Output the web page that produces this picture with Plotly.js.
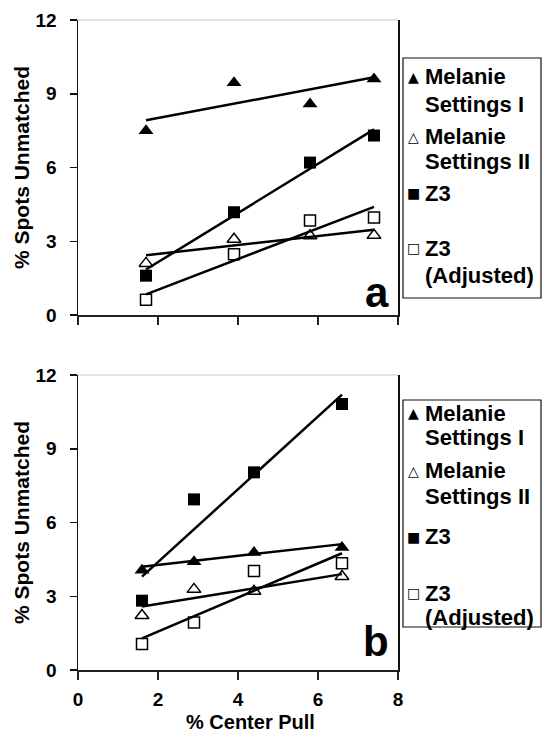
<!DOCTYPE html>
<html>
<head>
<meta charset="utf-8">
<script src="https://cdn.plot.ly/plotly-3.0.1.min.js"></script>
<style>html,body{margin:0;padding:0;background:#fff;}#chart{width:543px;height:734px;}</style>
</head>
<body>
<div id="chart"></div>
<script>
// ---------- data ----------
const seriesNames = ["Melanie<br>Settings I", "Melanie<br>Settings II", "Z3", "Z3<br>(Adjusted)"];
const legendSymbols = ["\u25B2", "\u25B3", "\u25A0", "\u25A1"];

// panel a
const xA = [1.7, 3.9, 5.8, 7.4];
const melanieI_A = [7.5, 9.45, 8.58, 9.6];
const melanieII_A = [2.1, 3.08, 3.22, 3.24];
const z3_A = [1.6, 4.18, 6.2, 7.3];
const z3adj_A = [0.62, 2.47, 3.84, 3.97];
const fitX_A = [1.7, 7.4];
const fitMelanieI_A = [7.92, 9.67];
const fitMelanieII_A = [2.43, 3.47];
const fitZ3_A = [1.85, 7.55];
const fitZ3adj_A = [0.84, 4.40];

// panel b
const xB = [1.6, 2.9, 4.4, 6.6];
const melanieI_B = [4.06, 4.4, 4.78, 4.98];
const melanieII_B = [2.22, 3.28, 3.2, 3.8];
const z3_B = [2.82, 6.94, 8.04, 10.82];
const z3adj_B = [1.06, 1.93, 4.03, 4.34];
const fitX_B = [1.6, 6.6];
const fitMelanieI_B = [4.2, 5.12];
const fitMelanieII_B = [2.58, 3.9];
const fitZ3_B = [3.8, 11.2];
const fitZ3adj_B = [1.29, 4.75];

const yTicks = [0, 3, 6, 9, 12];
const xTicks = [0, 2, 4, 6, 8];
const yTitle = "% Spots Unmatched";
const xTitle = "% Center Pull";
const panelLabels = ["a", "b"];

// ---------- styling ----------
const FONT = "Liberation Sans, Arial, Helvetica, sans-serif";
const markerStyles = [
  {symbol: "triangle-up", size: 13, color: "#000", line: {width: 0}},
  {symbol: "triangle-up-open", size: 12, color: "#000", line: {width: 1.5, color: "#000"}},
  {symbol: "square", size: 12, color: "#000", line: {width: 0}},
  {symbol: "square-open", size: 11, color: "#000", line: {width: 1.5, color: "#000"}}
];

function pts(x, y, k, xa, ya) {
  return {x: x, y: y, xaxis: xa, yaxis: ya, type: "scatter", mode: "markers",
          marker: markerStyles[k], showlegend: false, hoverinfo: "x+y", name: seriesNames[k]};
}
function fit(x, y, xa, ya) {
  return {x: x, y: y, xaxis: xa, yaxis: ya, type: "scatter", mode: "lines",
          line: {color: "#000", width: 2.5}, showlegend: false, hoverinfo: "skip"};
}

const traces = [
  fit(fitX_A, fitMelanieI_A, "x", "y"),
  fit(fitX_A, fitMelanieII_A, "x", "y"),
  fit(fitX_A, fitZ3_A, "x", "y"),
  fit(fitX_A, fitZ3adj_A, "x", "y"),
  pts(xA, melanieI_A, 0, "x", "y"),
  pts(xA, melanieII_A, 1, "x", "y"),
  pts(xA, z3_A, 2, "x", "y"),
  pts(xA, z3adj_A, 3, "x", "y"),
  fit(fitX_B, fitMelanieI_B, "x2", "y2"),
  fit(fitX_B, fitMelanieII_B, "x2", "y2"),
  fit(fitX_B, fitZ3_B, "x2", "y2"),
  fit(fitX_B, fitZ3adj_B, "x2", "y2"),
  pts(xB, melanieI_B, 0, "x2", "y2"),
  pts(xB, melanieII_B, 1, "x2", "y2"),
  pts(xB, z3_B, 2, "x2", "y2"),
  pts(xB, z3adj_B, 3, "x2", "y2")
];

// ---------- layout geometry (pixels -> paper) ----------
const L = 78, R = 145, T = 20, B = 64, W = 543, H = 734;
const PW = W - L - R, PH = H - T - B;
const px = v => (v - L) / PW;
const py = v => (H - B - v) / PH;

const tickFont = {family: FONT, size: 19, color: "#000", weight: "bold"};
const titleFont = {family: FONT, size: 21, color: "#000", weight: "bold"};
const xTitleFont = {family: FONT, size: 20, color: "#000", weight: "bold"};

function yAxis(domain) {
  return {domain: domain, range: [0, 12], tickvals: yTicks, ticktext: yTicks.map(String),
          showgrid: false, zeroline: false, showline: true, linecolor: "#111", linewidth: 1.5,
          mirror: true, ticks: "outside", ticklen: 7, tickwidth: 1.5, tickcolor: "#111",
          tickfont: tickFont, ticklabelstandoff: 9,
          title: {text: yTitle, font: titleFont, standoff: 0}, automargin: false, fixedrange: true};
}
function xAxis(anchor, labels) {
  return {anchor: anchor, range: [0, 8], tickvals: xTicks, ticktext: xTicks.map(String),
          showticklabels: labels, showgrid: false, zeroline: false, showline: true,
          linecolor: "#222", linewidth: 1.5, ticks: "outside", ticklen: 8, tickwidth: 1.5,
          tickcolor: "#222", tickfont: tickFont, ticklabelstandoff: 4,
          automargin: false, fixedrange: true};
}

const annotations = [];
const shapes = [];
// legends drawn per panel (one annotation per text line)
const legendGeom = [
  {top: 58, bottom: 298, symY: [76.7, 136.7, 193.3, 248.3], lineY: [[76.7, 104.5], [136.7, 161.7], [193.3], [248.3, 275]]},
  {top: 400, bottom: 627, symY: [413.3, 470.7, 536.7, 593.3], lineY: [[413.3, 437], [470.7, 496.7], [536.7], [593.3, 617.3]]}
];
legendGeom.forEach(g => {
  shapes.push({type: "rect", xref: "paper", yref: "paper", x0: px(403), x1: px(541),
               y0: py(g.bottom), y1: py(g.top), line: {color: "#111", width: 1.2}});
  for (let k = 0; k < 4; k++) {
    annotations.push({xref: "paper", yref: "paper", x: px(413.5), y: py(g.symY[k]),
      xanchor: "center", yanchor: "middle", showarrow: false, text: legendSymbols[k],
      font: {family: "DejaVu Sans", size: 14, color: "#000"}});
    const lines = seriesNames[k].split("<br>");
    lines.forEach((t, i) => {
      annotations.push({xref: "paper", yref: "paper", x: px(423), y: py(g.lineY[k][i]),
        xanchor: "left", yanchor: "middle", align: "left", showarrow: false, text: t,
        font: {family: FONT, size: 22, color: "#000", weight: "bold"}});
    });
  }
});
// x-axis title (bottom panel)
annotations.push({xref: "paper", yref: "paper", x: px(250), y: py(722), xanchor: "center", yanchor: "middle",
  showarrow: false, text: xTitle, font: xTitleFont});
// panel letters
annotations.push({xref: "paper", yref: "paper", x: px(391), y: py(292), xanchor: "right", yanchor: "middle",
  showarrow: false, text: panelLabels[0], font: {family: FONT, size: 42, color: "#000", weight: "bold"}});
annotations.push({xref: "paper", yref: "paper", x: px(391), y: py(641), xanchor: "right", yanchor: "middle",
  showarrow: false, text: panelLabels[1], font: {family: FONT, size: 42, color: "#000", weight: "bold"}});
// faint top borders
[20, 375].forEach(yy => shapes.push({type: "line", xref: "paper", yref: "paper",
  x0: 0, x1: 1, y0: py(yy), y1: py(yy), line: {color: "#c8c8c8", width: 1}}));

const layout = {
  width: W, height: H,
  margin: {l: L, r: R, t: T, b: B, pad: 0},
  paper_bgcolor: "#fff", plot_bgcolor: "#fff",
  showlegend: false,
  font: {family: FONT, color: "#000"},
  xaxis: xAxis("y", false),
  yaxis: yAxis([py(315), 1]),
  xaxis2: xAxis("y2", true),
  yaxis2: yAxis([0, py(375)]),
  annotations: annotations,
  shapes: shapes
};

Plotly.newPlot("chart", traces, layout, {displayModeBar: false, staticPlot: true});
</script>
</body>
</html>
